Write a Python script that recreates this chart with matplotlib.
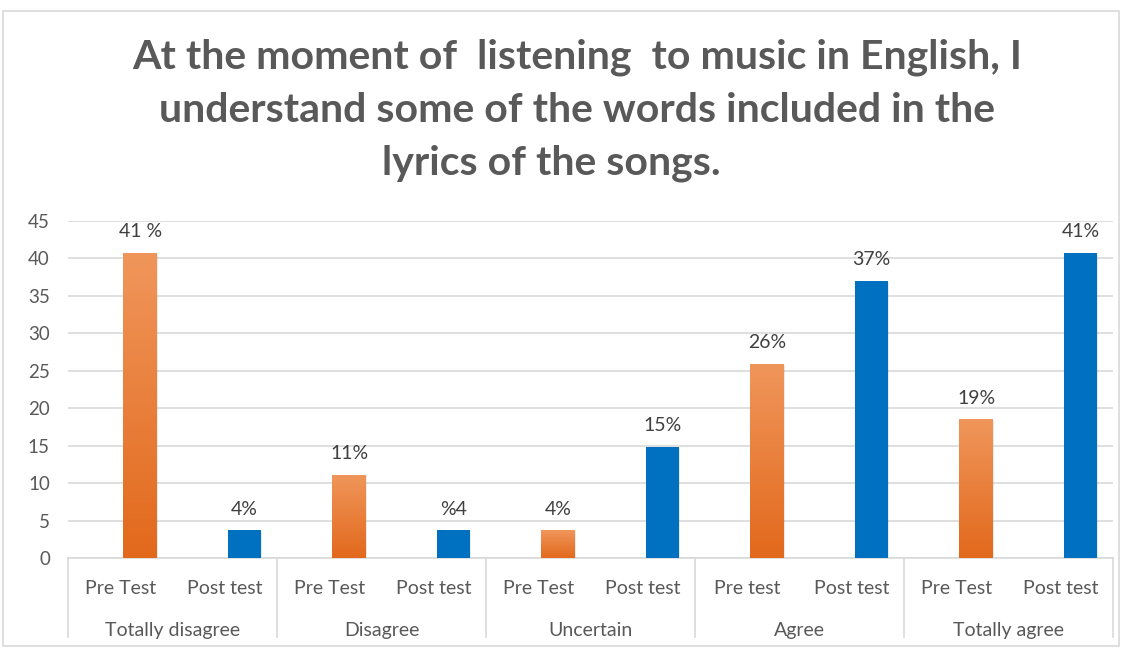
import numpy as np
import matplotlib
matplotlib.use("Agg")
import matplotlib.pyplot as plt
from matplotlib.patches import Rectangle
from matplotlib.colors import LinearSegmentedColormap

# ---- data ----
groups = ["Totally disagree", "Disagree", "Uncertain", "Agree", "Totally agree"]
sub_labels = ["Pre Test", "Post test", "Pre Test", "Post test", "Pre Test",
              "Post test", "Pre test", "Post test", "Pre Test", "Post test"]
values = [40.7, 3.7, 11.1, 3.7, 3.7, 14.8, 25.9, 37.0, 18.5, 40.7]
value_labels = ["41 %", "4%", "11%", "%4", "4%", "15%", "26%", "37%", "19%", "41%"]
is_pre = [True, False, True, False, True, False, True, False, True, False]
yticks = [0, 5, 10, 15, 20, 25, 30, 35, 40, 45]
title_lines = ["At the moment of  listening  to music in English, I",
               "understand some of the words included in the",
               "lyrics of the songs."]

plt.rcParams['font.family'] = ['Lato', 'DejaVu Sans']
gray = "#595959"

fig = plt.figure(figsize=(11.27, 6.48), dpi=100)
fig.patches.append(Rectangle((0.003, 0.003), 0.99, 0.98, transform=fig.transFigure,
                             fill=False, edgecolor="#D9D9D9", lw=1.2))
ax = fig.add_axes([0.0603, 0.1389, 0.9273, 0.5201])

x = np.arange(len(values))
offset = 0.19
width = 0.32
ax.set_xlim(-0.5, len(values) - 0.5)
ax.set_ylim(0, 45)

orange_cmap = LinearSegmentedColormap.from_list("og", ["#E2691C", "#F0965B"])
grad = np.linspace(0, 1, 256).reshape(-1, 1)

for xi, v, pre, lab in zip(x, values, is_pre, value_labels):
    cx = xi + offset
    # subtle shadow
    ax.add_patch(Rectangle((cx - width / 2 + 0.01, 0), width, v - 0.15,
                           facecolor="#000000", alpha=0.08, lw=0, zorder=2))
    if pre:
        bars = ax.bar(cx, v, width=width, color="none", edgecolor="none", zorder=3)
        im = ax.imshow(grad, cmap=orange_cmap, origin="lower", aspect="auto",
                       extent=(cx - width / 2, cx + width / 2, 0, v), zorder=3)
        im.set_clip_path(bars[0])
    else:
        ax.bar(cx, v, width=width, color="#0070C0", edgecolor="none", zorder=3)
    ax.text(cx, v + 1.7, lab, ha="center", va="bottom", fontsize=14, color="#404040")

ax.set_xlim(-0.5, len(values) - 0.5)
ax.set_ylim(0, 45)
ax.set_yticks(yticks)
ax.set_yticklabels([str(t) for t in yticks], fontsize=13.5, color=gray)
ax.yaxis.grid(True, color="#D9D9D9", lw=1.2)
ax.set_axisbelow(True)
ax.tick_params(axis="y", length=0, pad=13)
ax.set_xticks(x)
ax.set_xticklabels(sub_labels, fontsize=14, color=gray)
ax.tick_params(axis="x", length=0, pad=16)
for s in ["top", "right", "left"]:
    ax.spines[s].set_visible(False)
ax.spines["bottom"].set_color("#D9D9D9")
ax.spines["bottom"].set_linewidth(1.2)

# group separators and labels
trans = ax.get_xaxis_transform()
for i in range(len(groups) + 1):
    ax.plot([i * 2 - 0.5, i * 2 - 0.5], [0, -0.235], transform=trans,
            color="#D9D9D9", lw=1.2, clip_on=False)
for i, g in enumerate(groups):
    ax.text(i * 2 + 0.5, -0.215, g, transform=trans, ha="center", va="center",
            fontsize=14, color=gray)

# title, one line at a time
title_x = [0.512, 0.512, 0.489]
title_y = [0.911, 0.830, 0.748]
for tx, ty, line in zip(title_x, title_y, title_lines):
    fig.text(tx, ty, line, ha="center", va="center", fontsize=29.5,
             fontweight="bold", color=gray)

fig.savefig("out.png", dpi=100)
